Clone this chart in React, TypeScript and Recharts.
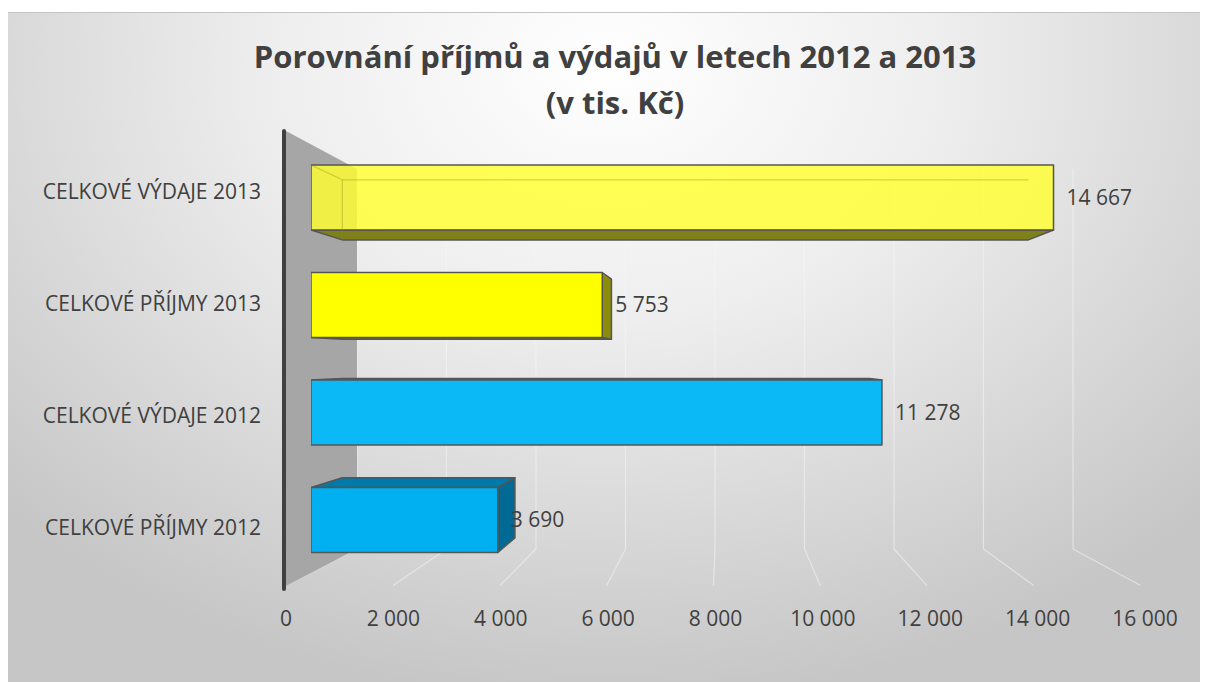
import React from 'react';
import { BarChart, Bar, XAxis, YAxis, CartesianGrid, LabelList, Cell, Customized } from 'recharts';

const categories = ['CELKOVÉ VÝDAJE 2013', 'CELKOVÉ PŘÍJMY 2013', 'CELKOVÉ VÝDAJE 2012', 'CELKOVÉ PŘÍJMY 2012'];
const values = [14667, 5753, 11278, 3690];
const xTicks = [0, 2000, 4000, 6000, 8000, 10000, 12000, 14000, 16000];
const titleLines = ['Porovnání příjmů a výdajů v letech 2012 a 2013', '(v tis. Kč)'];

const data = categories.map((name, i) => ({ name, value: values[i] }));

const fmt = (v: number) => String(v).replace(/\B(?=(\d{3})+(?!\d))/g, ' ');

// perspective (inner svg coords)
const VX = 715;
const VY = 347;
const K = 0.076;
const F = 0.162;
const PLOT_LEFT = 278;
const PLOT_RIGHT = 1137;

const PALETTE = [
  { front: '#FFFF30', opacity: 0.82, top: '#80801a', side: '#7a7a18' },
  { front: '#FFFF00', opacity: 1, top: '#8a8a10', side: '#8c8c0c' },
  { front: '#0BB9F7', opacity: 1, top: '#0079a8', side: '#006c96' },
  { front: '#00B0F0', opacity: 1, top: '#007aaa', side: '#006a94' },
];
const STROKE = '#555555';

const Bar3D = (props: any) => {
  const { x, y, width, height, index } = props;
  const c = PALETTE[index % PALETTE.length];
  const b = (px: number, py: number) => [px + K * (VX - px), py + K * (VY - py)];
  const TL = [x, y];
  const TR = [x + width, y];
  const BR = [x + width, y + height];
  const BL = [x, y + height];
  const TLb = b(TL[0], TL[1]);
  const TRb = b(TR[0], TR[1]);
  const BRb = b(BR[0], BR[1]);
  const BLb = b(BL[0], BL[1]);
  const pts = (arr: number[][]) => arr.map((p) => p.join(',')).join(' ');
  return (
    <g>
      {y > VY && <polygon points={pts([TL, TR, TRb, TLb])} fill={c.top} stroke={STROKE} strokeWidth={1.5} strokeLinejoin="round" />}
      {y + height < VY && <polygon points={pts([BL, BR, BRb, BLb])} fill={c.top} stroke={STROKE} strokeWidth={1.5} strokeLinejoin="round" />}
      {x + width < VX && <polygon points={pts([TR, BR, BRb, TRb])} fill={c.side} stroke={STROKE} strokeWidth={1.5} strokeLinejoin="round" />}
      <polygon points={pts([TL, TR, BR, BL])} fill={c.front} fillOpacity={c.opacity} stroke={STROKE} strokeWidth={1.5} strokeLinejoin="round" />
      {c.opacity < 1 && (
        <g stroke="#8a8a20" strokeOpacity={0.35} strokeWidth={1.2}>
          <line x1={TL[0]} y1={TL[1]} x2={TLb[0]} y2={TLb[1]} />
          <line x1={TLb[0]} y1={TLb[1]} x2={TRb[0]} y2={TRb[1]} />
          <line x1={TLb[0]} y1={TLb[1]} x2={BLb[0]} y2={BLb[1]} />
        </g>
      )}
    </g>
  );
};

const Nothing = () => <g />;

const Backdrop = () => (
  <g>
    <polygon points="278,118 349,156 349,536 278,573" fill="#a6a6a6" />
    <line x1={276} y1={118} x2={276} y2={576} stroke="#404040" strokeWidth={4} strokeLinecap="round" />
  </g>
);

const Title = () => (
  <g fill="#404040" fontWeight={700} fontSize={31} textAnchor="middle">
    <text x={607} y={55}>{titleLines[0]}</text>
    <text x={607} y={101}>{titleLines[1]}</text>
  </g>
);

const gridLine = (p: any) => {
  if (Math.abs(p.x1 - PLOT_LEFT) < 2 || Math.abs(p.x1 - PLOT_RIGHT) < 2) return <g key={p.key} />;
  const fx = (p.x1 - F * VX) / (1 - F);
  const fy = (p.y2 - F * VY) / (1 - F);
  return (
    <g key={p.key} stroke="#f6f6f6" strokeOpacity={0.55} strokeWidth={1.2}>
      <line x1={p.x1} y1={p.y1} x2={p.x2} y2={p.y2} />
      <line x1={p.x2} y1={p.y2} x2={fx} y2={fy} />
    </g>
  );
};

export default function App() {
  return (
    <div style={{ paddingTop: 4 }}>
      <style>{'html,body{overflow:hidden}'}</style>
      <div
        style={{
          width: 1200,
          height: 670,
          borderTop: '1px solid #c4c4c4',
          boxSizing: 'border-box',
          background: 'radial-gradient(ellipse 70% 95% at 50% 8%, #ffffff 0%, #eeeeee 40%, #c6c6c6 100%)',
          fontFamily: '"Open Sans", sans-serif',
        }}
      >
        <BarChart
          width={1200}
          height={669}
          data={data}
          layout="vertical"
          margin={{ top: 122, right: 63, bottom: 52, left: 0 }}
        >
          <Customized component={Backdrop} />
          <Customized component={Title} />
          <CartesianGrid
            xAxisId="back"
            yAxisId="bars"
            horizontal={false}
            vertical={gridLine}
            y={156}
            height={380}
          />
          <XAxis
            xAxisId="bottom"
            type="number"
            domain={[0, 16000]}
            ticks={xTicks}
            tickFormatter={fmt}
            axisLine={false}
            tickLine={false}
            tickMargin={21}
            height={46}
            tick={{ fill: '#404040', fontSize: 21 }}
            interval={0}
            allowDataOverflow
          />
          <XAxis xAxisId="front" type="number" domain={[0, 16000]} hide height={0} padding={{ left: 25, right: 24 }} allowDataOverflow />
          <XAxis xAxisId="back" type="number" domain={[0, 16000]} ticks={xTicks} interval={0} hide height={0} padding={{ left: 71, right: 72 }} allowDataOverflow />
          <YAxis
            type="category"
            dataKey="name"
            width={278}
            axisLine={false}
            tickLine={false}
            tickMargin={19}
            tick={{ fill: '#404040', fontSize: 21 }}
            interval={0}
          />
          <YAxis yAxisId="bars" type="category" dataKey="name" hide width={0} padding={{ top: 9, bottom: 10 }} />
          <YAxis yAxisId="aux" type="category" dataKey="name" hide width={0} />
          <Bar dataKey="value" xAxisId="bottom" yAxisId={0} shape={Nothing} isAnimationActive={false} legendType="none" />
          <Bar dataKey="value" xAxisId="back" yAxisId="aux" shape={Nothing} isAnimationActive={false} legendType="none" />
          <Bar
            dataKey="value"
            xAxisId="front"
            yAxisId="bars"
            barSize={65}
            shape={Bar3D}
            isAnimationActive={false}
          >
            {data.map((d, i) => (
              <Cell key={d.name} fill={PALETTE[i].front} />
            ))}
            <LabelList dataKey="value" position="right" offset={13} formatter={(v: any) => fmt(Number(v))} fill="#404040" fontSize={21} />
          </Bar>
        </BarChart>
      </div>
    </div>
  );
}
